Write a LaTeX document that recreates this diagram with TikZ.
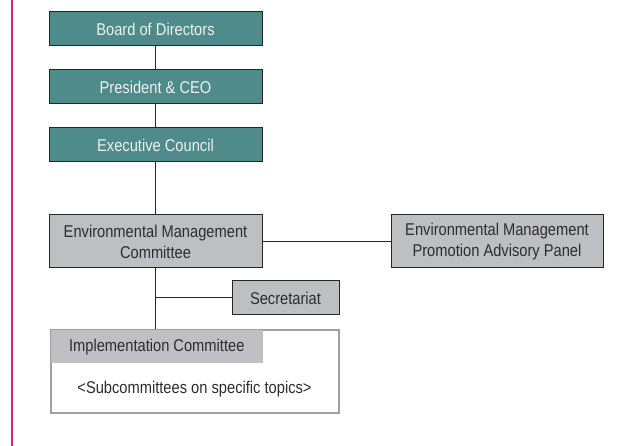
\documentclass[tikz,border=0pt]{standalone}
\usepackage{fontspec}
\setmainfont[FakeStretch=0.86]{Liberation Sans}
\usepackage{tikz}
\usetikzlibrary{positioning}

\definecolor{tealfill}{RGB}{79,139,139}
\definecolor{greyfill}{RGB}{190,191,195}
\definecolor{hdrgrey}{RGB}{192,192,196}
\definecolor{edgegrey}{RGB}{160,160,162}
\definecolor{darktext}{RGB}{45,45,45}
\definecolor{pinkline}{RGB}{214,40,110}

\begin{document}
\begin{tikzpicture}[x=0.75pt,y=0.75pt,
    font=\fontsize{12.8}{15.75}\selectfont,
    tealbox/.style={draw=black!85,line width=0.75pt,fill=tealfill,text=white!94!black,
      minimum width=159.75pt,minimum height=25.5pt,inner sep=0pt},
    greybox/.style={draw=black!85,line width=0.75pt,fill=greyfill,text=darktext,
      minimum height=39.75pt,inner sep=0pt,align=center},
    link/.style={draw=black!85,line width=0.75pt}]
    \useasboundingbox (0,0) rectangle (632,446);
    \draw[pinkline,line width=1.2pt] (11.7,0) -- (11.7,446);

    \node(board)[tealbox] at (155.5,417){Board of Directors};
    \node(president)[tealbox,below=17.25pt of board]{President \& CEO};
    \node(council)[tealbox,below=17.25pt of president]{Executive Council};
    \node(emc)[greybox,minimum width=159.75pt,below=39pt of council]{Environmental Management\\Committee};
    \node(panel)[greybox,minimum width=159pt,right=96pt of emc]{Environmental Management\\Promotion Advisory Panel};
    \node(secretariat)[greybox,minimum width=80.25pt,minimum height=25.5pt,anchor=west] at (231.5,148){Secretariat};
    \node(impl)[draw=edgegrey,line width=1.5pt,minimum width=216pt,minimum height=62.25pt,
      anchor=north west] at (49.5,117){};
    \node(header)[fill=hdrgrey,text=darktext,minimum width=159pt,minimum height=24.75pt,
      inner sep=0pt,anchor=north west] at ([shift={(0.75pt,-0.75pt)}]impl.north west){Implementation Committee};
    \node(topics)[text=darktext] at ([yshift=18.6pt]impl.south){<Subcommittees on specific topics>};

    \coordinate(trunk) at (emc.south |- impl.north);

    \path[every edge/.append style={link}]
    (board) edge (president)
    (president) edge (council)
    (council) edge (emc)
    (emc) edge (panel)
    (emc.south) edge (trunk)
    (secretariat.west) edge (secretariat.west -| emc.south)
    ;
\end{tikzpicture}
\end{document}
